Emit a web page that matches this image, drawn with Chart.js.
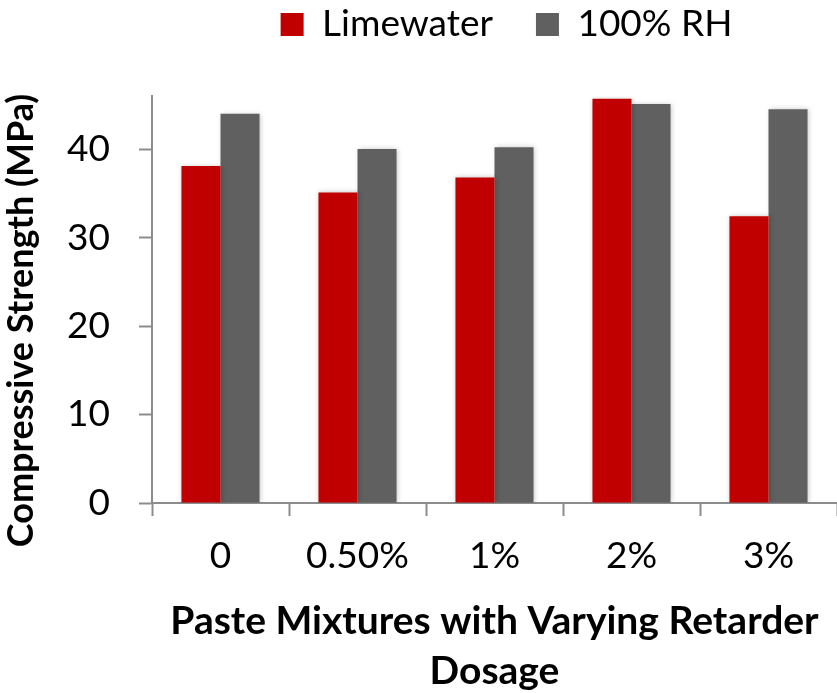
<!DOCTYPE html>
<html>
<head>
<meta charset="utf-8">
<script src="https://cdn.jsdelivr.net/npm/chart.js@4.4.1/dist/chart.umd.min.js"></script>
<style>
  html, body { margin: 0; padding: 0; background: #fff; }
  #wrap { width: 837px; height: 693px; position: relative; }
</style>
</head>
<body>
<div id="wrap"><canvas id="strengthChart"></canvas></div>
<script>
// Compressive strength of paste mixtures (MPa)
const dosages = ['0', '0.50%', '1%', '2%', '3%'];
const limewater = [38.1, 35.1, 36.8, 45.7, 32.4];
const humidRoom = [44.0, 40.0, 40.2, 45.1, 44.5];
const yTicks = [0, 10, 20, 30, 40];

const FONT = 'Lato, "Open Sans", sans-serif';
const AXIS_GREY = '#8c8c8c';

// soft halo around the bars
const barShadow = {
  id: 'barShadow',
  beforeDatasetsDraw(chart) {
    const ctx = chart.ctx;
    ctx.save();
    ctx.shadowColor = 'rgba(0,0,0,0.22)';
    ctx.shadowBlur = 5;
    ctx.shadowOffsetX = 1;
    ctx.shadowOffsetY = 0;
  },
  afterDatasetsDraw(chart) {
    chart.ctx.restore();
  }
};

// legend sits right of centre, and leaves room above the plot
const legendPlace = {
  id: 'legendPlace',
  beforeInit(chart) {
    const fit = chart.legend.fit;
    chart.legend.fit = function () {
      fit.bind(chart.legend)();
      this.height = 133;
    };
  },
  afterLayout(chart) {
    chart.legend.left += 88;
    chart.legend.right += 88;
  }
};

// nudge the y title downwards
const yTitleShift = {
  id: 'yTitleShift',
  afterLayout(chart) {
    const y = chart.scales.y;
    if (y._shifted) return;
    const orig = y.drawTitle;
    y.drawTitle = function (area) {
      this.ctx.save();
      this.ctx.translate(0, 21);
      orig.call(this, area);
      this.ctx.restore();
    };
    y._shifted = true;
  }
};

const ctx = document.getElementById('strengthChart').getContext('2d');
const strengthChart = new Chart(ctx, {
  type: 'bar',
  data: {
    labels: dosages,
    datasets: [
      {
        label: 'Limewater',
        data: limewater,
        backgroundColor: '#c00000',
        borderWidth: 0,
        barPercentage: 1,
        categoryPercentage: 0.57
      },
      {
        label: '100% RH',
        data: humidRoom,
        backgroundColor: '#606060',
        borderWidth: 0,
        barPercentage: 1,
        categoryPercentage: 0.57
      }
    ]
  },
  options: {
    responsive: true,
    maintainAspectRatio: false,
    animation: false,
    layout: { padding: { left: 0, right: 0, top: -37, bottom: 0 } },
    plugins: {
      legend: {
        position: 'top',
        labels: {
          color: '#000',
          font: { family: FONT, size: 37 },
          boxWidth: 23,
          boxHeight: 23,
          padding: 43
        }
      },
      tooltip: { enabled: false },
      title: { display: false }
    },
    scales: {
      x: {
        afterFit(scale) {
          scale.height = 190;
        },
        grid: {
          drawOnChartArea: false,
          drawTicks: true,
          tickLength: 13,
          tickColor: AXIS_GREY,
          tickWidth: 2
        },
        border: { color: AXIS_GREY, width: 2 },
        ticks: {
          color: '#000',
          font: { family: FONT, size: 37 },
          padding: 18,
          maxRotation: 0
        },
        title: {
          display: true,
          text: ['Paste Mixtures with Varying Retarder', 'Dosage'],
          color: '#000',
          font: { family: FONT, size: 39, weight: 'bold', lineHeight: 1.3 },
          padding: { top: 4, bottom: -4 }
        }
      },
      y: {
        min: 0,
        max: 46,
        afterBuildTicks(scale) {
          scale.ticks = yTicks.map(v => ({ value: v }));
        },
        afterFit(scale) {
          scale.width = 152;
        },
        grid: {
          drawOnChartArea: false,
          drawTicks: true,
          tickLength: 13,
          tickColor: AXIS_GREY,
          tickWidth: 2
        },
        border: { color: AXIS_GREY, width: 2 },
        ticks: {
          color: '#000',
          font: { family: FONT, size: 37 },
          padding: 29
        },
        title: {
          display: true,
          text: 'Compressive Strength (MPa)',
          color: '#000',
          font: { family: FONT, size: 36, weight: 'bold' },
          padding: 0
        }
      }
    }
  },
  plugins: [barShadow, legendPlace, yTitleShift]
});
</script>
</body>
</html>
